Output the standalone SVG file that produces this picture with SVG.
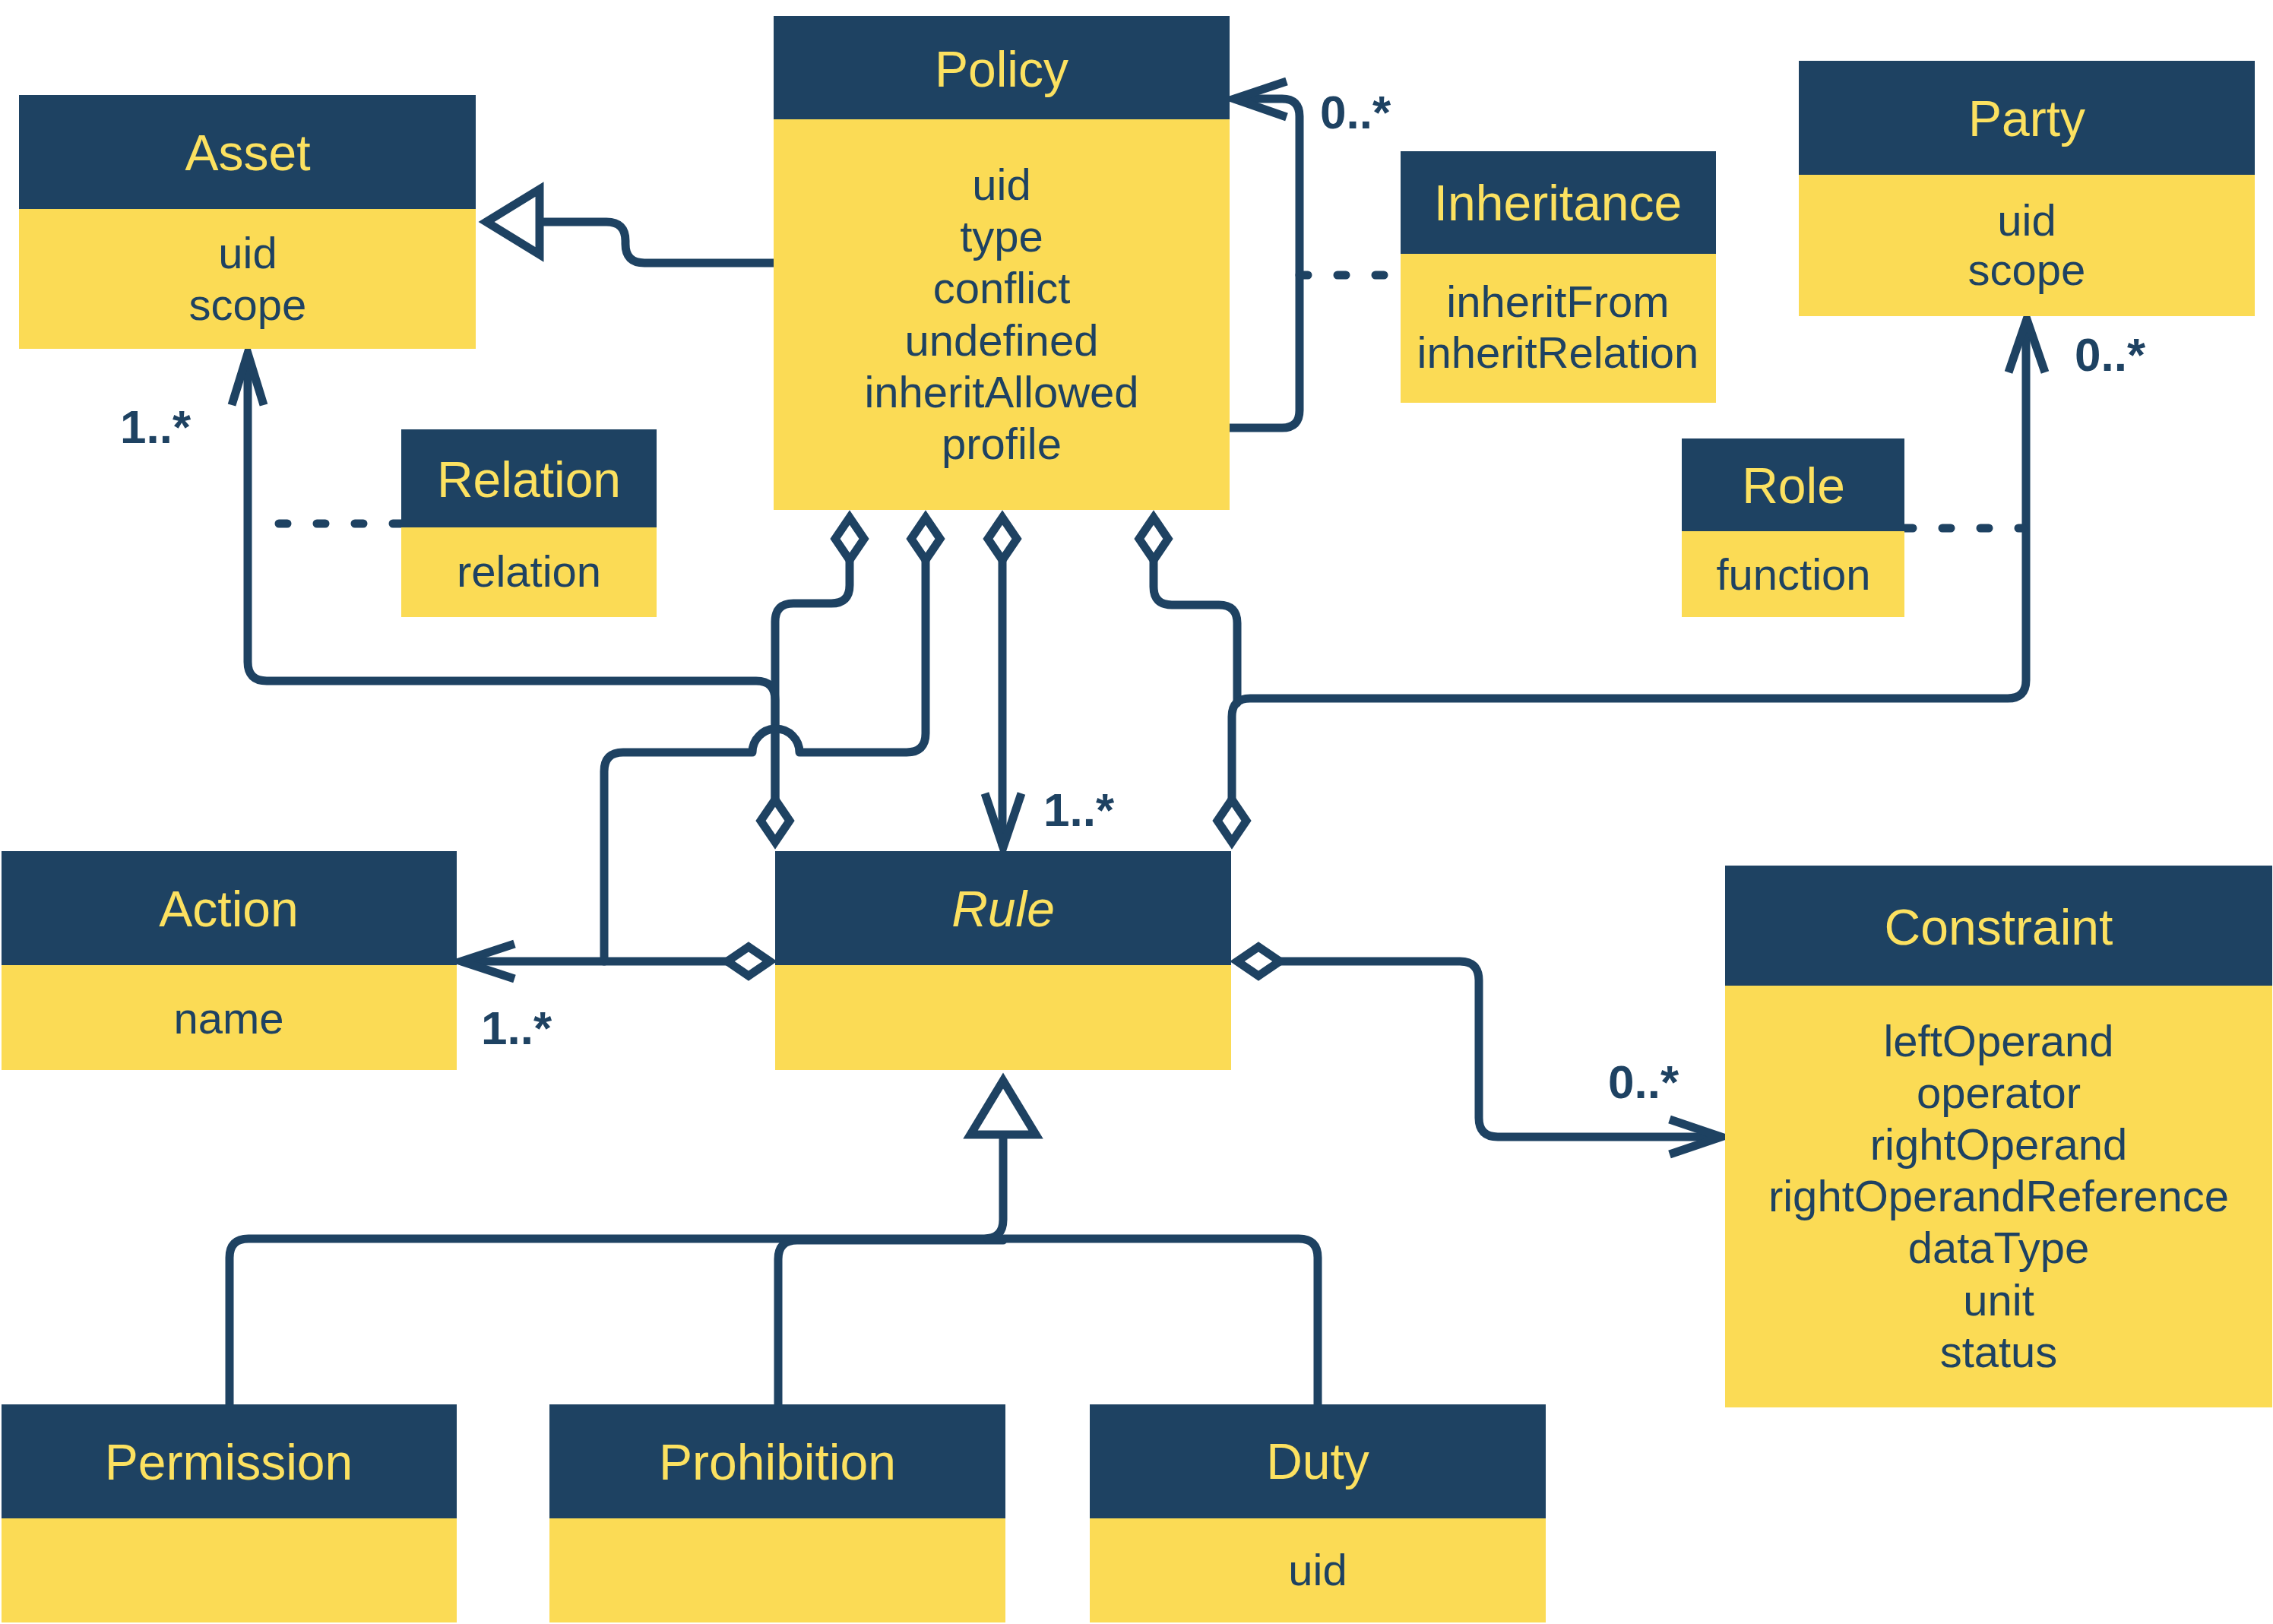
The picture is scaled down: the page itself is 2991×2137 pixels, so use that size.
<svg xmlns="http://www.w3.org/2000/svg" width="2991" height="2137" viewBox="0 0 2991 2137">
<style>
.hd{fill:#1E4262}
.bd{fill:#FBDB55}
.t{font-family:"Liberation Sans",Arial,sans-serif;font-size:66px;fill:#FCE160;text-anchor:middle}
.a{font-family:"Liberation Sans",Arial,sans-serif;font-size:58px;fill:#1E4262;text-anchor:middle}
.m{font-family:"Liberation Sans",Arial,sans-serif;font-size:62px;font-weight:bold;fill:#1E4262}
.ln{fill:none;stroke:#1E4262;stroke-width:11;stroke-linecap:round;stroke-linejoin:round}
.ar{fill:none;stroke:#1E4262;stroke-width:11;stroke-linecap:butt;stroke-linejoin:miter;stroke-miterlimit:10}
.sh{fill:#FFFFFF;stroke:#1E4262;stroke-width:11;stroke-linejoin:miter;stroke-miterlimit:10}
.dt{fill:none;stroke:#1E4262;stroke-width:11;stroke-linecap:round;stroke-dasharray:11 39}
</style>
<rect width="2991" height="2137" fill="#FFFFFF"/>

<g id="connectors">
  <!-- Policy -> Asset generalization -->
  <path class="ln" d="M1018,346 H848 Q823,346 823,321 V317 Q823,292 798,292 H712"/>
  <polygon class="sh" points="640,292 710,249 710,335"/>
  <!-- Rule -> Asset association -->
  <path class="ln" d="M1020,1052 V921 Q1020,896 995,896 H351 Q326,896 326,871 V468"/>
  <path class="ar" d="M305,533 L326,465 L347,533"/>
  <!-- Relation association class -->
  <path class="dt" d="M528,689 H330"/>
  <!-- Policy diamond 1 -> Rule -->
  <path class="ln" d="M1118,737 V770 Q1118,794 1094,794 H1044 Q1020,794 1020,818 V1052"/>
  <!-- Policy diamond 2 -> Action -->
  <path class="ln" d="M1218,737 V965 Q1218,990 1193,990 H1052 A31,31 0 0 0 990,990 H820 Q795,990 795,1015 V1265"/>
  <!-- Policy diamond 3 -> Rule -->
  <path class="ln" d="M1319,737 V1112"/>
  <path class="ar" d="M1296,1044 L1320,1115 L1344,1044"/>
  <!-- Policy diamond 4 -> Party path -->
  <path class="ln" d="M1518,737 V772 Q1518,796 1542,796 H1604 Q1628,796 1628,820 V925"/>
  <!-- Rule -> Party -->
  <path class="ln" d="M1621,1052 V943 Q1621,919 1645,919 H2642 Q2666,919 2666,895 V425"/>
  <path class="ar" d="M2643,490 L2667,420 L2691,490"/>
  <!-- Role association class -->
  <path class="dt" d="M2506,695 H2662"/>
  <!-- Policy self-loop -->
  <path class="ln" d="M1618,563 H1687 Q1710,563 1710,540 V153 Q1710,130 1687,130 H1626"/>
  <path class="ar" d="M1693,107 L1624,130 L1693,154"/>
  <!-- Inheritance association class -->
  <path class="dt" d="M1710,362 H1840"/>
  <!-- Rule -> Action -->
  <path class="ln" d="M957,1265 H610"/>
  <path class="ar" d="M677,1242 L607,1265 L677,1288"/>
  <!-- Rule -> Constraint -->
  <path class="ln" d="M1684,1265 H1921 Q1946,1265 1946,1290 V1471 Q1946,1496 1971,1496 H2262"/>
  <path class="ar" d="M2197,1473 L2265,1496 L2197,1519"/>
  <!-- Generalization to Rule -->
  <path class="ln" d="M1320,1497 V1605 Q1320,1630 1295,1630 H327 Q302,1630 302,1655 V1848"/>
  <path class="ln" d="M1024,1848 V1657 Q1024,1632 1049,1632 H1320"/>
  <path class="ln" d="M1300,1630 H1709 Q1734,1630 1734,1655 V1848"/>
  <polygon class="sh" points="1320,1422 1363,1493 1277,1493"/>
  <!-- aggregation diamonds -->
  <polygon class="sh" points="1118,681 1137,709 1118,737 1099,709"/>
  <polygon class="sh" points="1218,681 1237,709 1218,737 1199,709"/>
  <polygon class="sh" points="1319,681 1338,709 1319,737 1300,709"/>
  <polygon class="sh" points="1518,681 1537,709 1518,737 1499,709"/>
  <polygon class="sh" points="1020,1052 1039,1080 1020,1108 1001,1080"/>
  <polygon class="sh" points="1621,1052 1640,1080 1621,1108 1602,1080"/>
  <polygon class="sh" points="957,1265 985,1246 1013,1265 985,1284"/>
  <polygon class="sh" points="1628,1265 1656,1246 1684,1265 1656,1284"/>
  <!-- multiplicities -->
  <text class="m" x="158" y="583">1..*</text>
  <text class="m" x="1737" y="169">0..*</text>
  <text class="m" x="2730" y="488">0..*</text>
  <text class="m" x="1373" y="1087">1..*</text>
  <text class="m" x="633" y="1374">1..*</text>
  <text class="m" x="2116" y="1445">0..*</text>
</g>

<g id="asset">
  <rect class="hd" x="25" y="125" width="601" height="150"/>
  <rect class="bd" x="25" y="275" width="601" height="184"/>
  <text class="t" x="326" y="224">Asset</text>
  <text class="a" x="326" y="353">uid</text>
  <text class="a" x="326" y="421">scope</text>
</g>

<g id="policy">
  <rect class="hd" x="1018" y="21" width="600" height="136"/>
  <rect class="bd" x="1018" y="157" width="600" height="514"/>
  <text class="t" x="1318" y="114">Policy</text>
  <text class="a" x="1318" y="263">uid</text>
  <text class="a" x="1318" y="331">type</text>
  <text class="a" x="1318" y="399">conflict</text>
  <text class="a" x="1318" y="468">undefined</text>
  <text class="a" x="1318" y="536">inheritAllowed</text>
  <text class="a" x="1318" y="604">profile</text>
</g>

<g id="inheritance">
  <rect class="hd" x="1843" y="199" width="415" height="135"/>
  <rect class="bd" x="1843" y="334" width="415" height="196"/>
  <text class="t" x="2050" y="290">Inheritance</text>
  <text class="a" x="2050" y="417">inheritFrom</text>
  <text class="a" x="2050" y="484">inheritRelation</text>
</g>

<g id="party">
  <rect class="hd" x="2367" y="80" width="600" height="150"/>
  <rect class="bd" x="2367" y="230" width="600" height="186"/>
  <text class="t" x="2667" y="179">Party</text>
  <text class="a" x="2667" y="310">uid</text>
  <text class="a" x="2667" y="375">scope</text>
</g>

<g id="relation">
  <rect class="hd" x="528" y="565" width="336" height="129"/>
  <rect class="bd" x="528" y="694" width="336" height="118"/>
  <text class="t" x="696" y="654">Relation</text>
  <text class="a" x="696" y="772">relation</text>
</g>

<g id="role">
  <rect class="hd" x="2213" y="577" width="293" height="122"/>
  <rect class="bd" x="2213" y="699" width="293" height="113"/>
  <text class="t" x="2360" y="662">Role</text>
  <text class="a" x="2360" y="776">function</text>
</g>

<g id="action">
  <rect class="hd" x="2" y="1120" width="599" height="150"/>
  <rect class="bd" x="2" y="1270" width="599" height="138"/>
  <text class="t" x="301" y="1219">Action</text>
  <text class="a" x="301" y="1360">name</text>
</g>

<g id="rule">
  <rect class="hd" x="1020" y="1120" width="600" height="150"/>
  <rect class="bd" x="1020" y="1270" width="600" height="138"/>
  <text class="t" x="1320" y="1219" font-style="italic">Rule</text>
</g>

<g id="constraint">
  <rect class="hd" x="2270" y="1139" width="720" height="158"/>
  <rect class="bd" x="2270" y="1297" width="720" height="555"/>
  <text class="t" x="2630" y="1243">Constraint</text>
  <text class="a" x="2630" y="1390">leftOperand</text>
  <text class="a" x="2630" y="1458">operator</text>
  <text class="a" x="2630" y="1526">rightOperand</text>
  <text class="a" x="2630" y="1594">rightOperandReference</text>
  <text class="a" x="2630" y="1662">dataType</text>
  <text class="a" x="2630" y="1731">unit</text>
  <text class="a" x="2630" y="1799">status</text>
</g>

<g id="permission">
  <rect class="hd" x="2" y="1848" width="599" height="150"/>
  <rect class="bd" x="2" y="1998" width="599" height="137"/>
  <text class="t" x="301" y="1947">Permission</text>
</g>

<g id="prohibition">
  <rect class="hd" x="723" y="1848" width="600" height="150"/>
  <rect class="bd" x="723" y="1998" width="600" height="137"/>
  <text class="t" x="1023" y="1947">Prohibition</text>
</g>

<g id="duty">
  <rect class="hd" x="1434" y="1848" width="600" height="150"/>
  <rect class="bd" x="1434" y="1998" width="600" height="137"/>
  <text class="t" x="1734" y="1946">Duty</text>
  <text class="a" x="1734" y="2086">uid</text>
</g>
</svg>
